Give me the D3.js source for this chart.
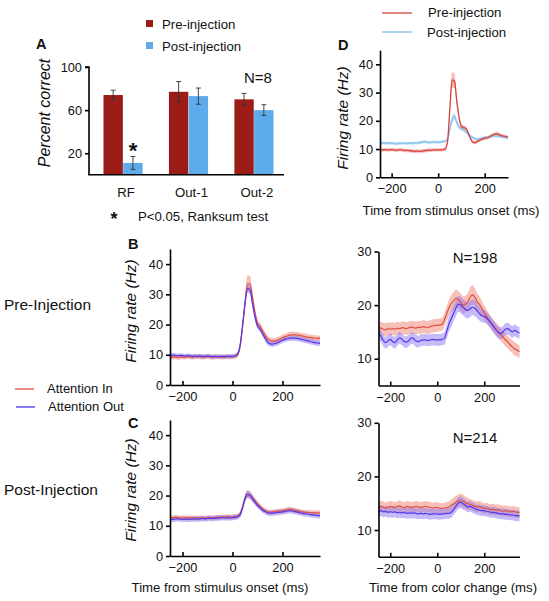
<!DOCTYPE html>
<html><head><meta charset="utf-8">
<script src="https://cdn.jsdelivr.net/npm/d3@7"></script>
<style>body{margin:0;background:#fff}svg{display:block}</style>
</head><body><svg id="c" width="549" height="601"></svg>
<script>
// ---------- Panel A data ----------
const catsA = ["RF", "Out-1", "Out-2"];
const preA = [74, 77, 70];
const postA = [11, 73, 60];
const preAErr = [4.5, 9.5, 5.5];
const postAErr = [6, 7.5, 5];
const ticksA = [20, 60, 100];

// ---------- Panel D data (-250..300, step 10) ----------
const timesD = d3.range(-250, 301, 10);
const dPre = [
 9.8,9.7,9.8,9.7,9.7, 9.8,9.7,9.6,9.7,9.7, 9.6,9.5,9.5,9.4,9.3, 9.2,9.3,9.2,9.3,9.4,
 9.5,9.6,9.6,9.7,9.7, 9.7,9.7,9.8,10.0,12.5, 24,34.5,34,27,21, 18,17.6,17.2,15.5,13.5,
 12.4,12.3,12.8,13.2,13.6, 13.8,14,14.3,14.8,15.2, 15.4,15.2,14.8,14.6,14.4, 14.2];
const dPreErr = [
 0.6,0.6,0.6,0.6,0.6, 0.6,0.6,0.6,0.6,0.6, 0.6,0.6,0.6,0.6,0.6, 0.6,0.6,0.6,0.6,0.6,
 0.6,0.6,0.6,0.6,0.6, 0.6,0.6,0.6,0.7,1.0, 1.8,2.8,2.5,1.6,1.0, 0.8,0.8,0.7,0.7,0.6,
 0.6,0.6,0.6,0.6,0.6, 0.6,0.6,0.6,0.6,0.6, 0.7,0.7,0.6,0.6,0.6, 0.6];
const dPost = [
 12.3,12.2,12.1,12.2,12.0, 12.1,12.0,11.9,12.0,12.0, 12.1,12.0,12.0,12.1,12.0, 12.2,12.1,12.3,12.4,12.6,
 12.5,12.3,12.4,12.5,12.4, 12.4,12.5,12.6,12.8,13.5, 17.0,20.5,21.5,19.5,17.8, 17.2,16.8,16.0,15.2,14.5,
 14.0,13.6,13.5,13.7,13.9, 14.1,14.2,14.3,14.5,14.6, 14.7,14.5,14.3,14.2,14.1, 14.0];
const dPostErr = [
 0.5,0.5,0.5,0.5,0.5, 0.5,0.5,0.5,0.5,0.5, 0.5,0.5,0.5,0.5,0.5, 0.5,0.5,0.5,0.5,0.5,
 0.5,0.5,0.5,0.5,0.5, 0.5,0.5,0.5,0.5,0.6, 0.8,1.2,1.2,0.9,0.7, 0.6,0.6,0.5,0.5,0.5,
 0.5,0.5,0.5,0.5,0.5, 0.5,0.5,0.5,0.5,0.5, 0.5,0.5,0.5,0.5,0.5, 0.5];

// ---------- Panels B, C, right (-250..350, step 10) ----------
const timesBC = d3.range(-250, 351, 10);
const bIn = [
 9.3,9.2,9.3,9.1,9.2, 9.3,9.2,9.4,9.3,9.2, 9.3,9.4,9.3,9.2,9.3, 9.4,9.3,9.2,9.3,9.4,
 9.3,9.2,9.3,9.4,9.3, 9.4,9.5,10.0,12.5,19, 27,33.5,33.5,29,24, 20.5,19.5,18,16.5,15.3,
 14.7,14.5,14.6,14.9,15.2, 15.6,16,16.3,16.5,16.6, 16.6,16.5,16.4,16.2,16, 15.8,15.7,15.6,15.5,15.4, 15.4];
const bInErr = [
 0.8,0.8,0.8,0.8,0.8, 0.8,0.8,0.8,0.8,0.8, 0.8,0.8,0.8,0.8,0.8, 0.8,0.8,0.8,0.8,0.8,
 0.8,0.8,0.8,0.8,0.8, 0.8,0.8,0.8,1.0,1.5, 2.2,2.8,2.6,2.0,1.5, 1.2,1.1,1.0,1.0,1.0,
 1.0,1.0,1.0,1.0,1.0, 1.0,1.0,1.0,1.0,1.0, 1.0,1.0,1.0,1.0,1.0, 1.0,1.0,1.0,1.0,1.0, 1.0];
const bOut = [
 9.8,9.9,9.8,9.7,9.8, 9.7,9.6,9.7,9.6,9.5, 9.6,9.5,9.6,9.5,9.5, 9.6,9.5,9.4,9.5,9.4,
 9.4,9.5,9.4,9.5,9.5, 9.5,9.6,10.2,13,19.5, 27,32,31.5,27,22.5, 19.5,18.5,17,15.5,14.2,
 13.6,13.5,13.7,14.0,14.4, 14.8,15.1,15.3,15.5,15.5, 15.5,15.4,15.2,15.0,14.8, 14.6,14.4,14.2,14.0,13.9, 13.8];
const bOutErr = [
 0.7,0.7,0.7,0.7,0.7, 0.7,0.7,0.7,0.7,0.7, 0.7,0.7,0.7,0.7,0.7, 0.7,0.7,0.7,0.7,0.7,
 0.7,0.7,0.7,0.7,0.7, 0.7,0.7,0.7,0.9,1.2, 1.4,1.6,1.5,1.3,1.1, 1.0,0.9,0.9,0.9,0.9,
 0.9,0.9,0.9,0.9,0.9, 0.9,0.9,0.9,0.9,0.9, 0.9,0.9,0.9,0.9,0.9, 0.9,0.9,0.9,0.9,0.9, 0.9];
const cIn = [
 12.8,12.7,12.8,12.7,12.6, 12.7,12.6,12.7,12.6,12.6, 12.5,12.6,12.5,12.6,12.5, 12.6,12.7,12.6,12.7,12.8,
 12.8,12.9,12.9,13.0,12.9, 12.9,13.0,13.2,13.8,16, 19,20.5,20.2,19.2,18.2, 17.2,16.4,15.6,15.0,14.6,
 14.5,14.6,14.7,14.8,14.9, 15.0,15.1,15.3,15.4,15.3, 15.1,14.9,14.7,14.6,14.5, 14.4,14.4,14.3,14.3,14.3, 14.2];
const cInErr = [
 0.8,0.8,0.8,0.8,0.8, 0.8,0.8,0.8,0.8,0.8, 0.8,0.8,0.8,0.8,0.8, 0.8,0.8,0.8,0.8,0.8,
 0.8,0.8,0.8,0.8,0.8, 0.8,0.8,0.8,0.9,1.1, 1.2,1.3,1.3,1.2,1.1, 1.0,0.9,0.9,0.8,0.8,
 0.8,0.8,0.8,0.8,0.8, 0.8,0.8,0.8,0.8,0.8, 0.8,0.8,0.8,0.8,0.8, 0.8,0.8,0.8,0.8,0.8, 0.8];
const cOut = [
 12.2,12.1,12.2,12.3,12.2, 12.1,12.2,12.1,12.2,12.2, 12.3,12.2,12.3,12.4,12.3, 12.4,12.5,12.4,12.5,12.6,
 12.6,12.7,12.6,12.7,12.6, 12.7,12.8,13.0,13.6,16, 19,20.4,20,19,17.8, 16.8,16,15.2,14.7,14.3,
 14.1,14.2,14.3,14.4,14.5, 14.6,14.7,14.9,15.0,14.9, 14.7,14.5,14.3,14.1,14.0, 13.9,13.7,13.6,13.5,13.4, 13.3];
const cOutErr = [
 0.9,0.9,0.9,0.9,0.9, 0.9,0.9,0.9,0.9,0.9, 0.9,0.9,0.9,0.9,0.9, 0.9,0.9,0.9,0.9,0.9,
 0.9,0.9,0.9,0.9,0.9, 0.9,0.9,0.9,1.0,1.1, 1.2,1.2,1.2,1.1,1.0, 1.0,0.9,0.9,0.9,0.9,
 0.9,0.9,0.9,0.9,0.9, 0.9,0.9,0.9,0.9,0.9, 0.9,0.9,0.9,0.9,0.9, 0.9,0.9,0.9,0.9,0.9, 0.9];
const ePreIn = [
 15.8,15.7,15.5,15.4,15.6, 15.5,15.6,15.5,15.7,15.6, 15.8,15.7,15.6,15.8,15.9, 15.8,15.7,15.9,15.8,16.0,
 15.9,15.8,16.0,16.1,16.2, 16.2,16.3,16.4,17.2,18.4, 19.5,20.3,20.8,21.3,21.0, 20.5,20.0,20.2,20.6,21.5,
 21.9,21.5,20.6,20.1,19.4, 18.6,17.9,17.2,16.6,16.0, 15.5,15.0,14.5,14.0,13.5, 13.1,12.6,12.2,11.8,11.6, 11.3];
const ePreInErr = [
 1.2,1.2,1.2,1.2,1.2, 1.2,1.2,1.2,1.2,1.2, 1.2,1.2,1.2,1.2,1.2, 1.2,1.2,1.2,1.2,1.2,
 1.2,1.2,1.2,1.2,1.2, 1.2,1.2,1.2,1.3,1.4, 1.5,1.6,1.6,1.6,1.6, 1.6,1.6,1.6,1.7,1.8,
 1.8,1.7,1.6,1.5,1.4, 1.3,1.3,1.2,1.2,1.2, 1.2,1.2,1.2,1.2,1.2, 1.2,1.2,1.2,1.2,1.2, 1.2];
const ePreOut = [
 14.8,14.2,13.4,13.0,13.3, 13.6,13.2,13.0,13.5,13.9, 13.6,13.2,13.1,13.4,13.9, 13.7,13.3,13.2,13.4,13.5,
 13.5,13.4,13.5,13.6,13.5, 13.5,13.5,13.6,13.8,15.0, 16.5,17.5,18.5,19.5,20.2, 20.0,19.6,19.2,19.0,19.3,
 19.6,19.4,18.9,18.4,18.0, 17.9,17.6,17.1,16.6,16.0, 15.4,14.9,14.7,15.0,15.5, 15.6,15.3,15.0,15.3,15.0, 14.8];
const ePreOutErr = [
 1.1,1.1,1.1,1.1,1.1, 1.1,1.1,1.1,1.1,1.1, 1.1,1.1,1.1,1.1,1.1, 1.1,1.1,1.1,1.1,1.1,
 1.1,1.1,1.1,1.1,1.1, 1.1,1.1,1.1,1.2,1.3, 1.4,1.5,1.5,1.5,1.5, 1.5,1.5,1.5,1.5,1.5,
 1.5,1.5,1.4,1.3,1.2, 1.2,1.1,1.1,1.1,1.1, 1.1,1.1,1.1,1.1,1.1, 1.1,1.1,1.1,1.1,1.1, 1.1];
const ePostIn = [
 14.2,14.4,14.3,14.1,14.3, 14.4,14.3,14.2,14.4,14.5, 14.3,14.2,14.4,14.3,14.2, 14.3,14.4,14.3,14.2,14.3,
 14.4,14.3,14.2,14.1,14.2, 14.2,14.1,14.0,14.1,14.2, 14.3,14.6,14.9,15.2,15.4, 15.6,15.4,15.1,14.9,14.8,
 14.6,14.4,14.3,14.4,14.2, 14.0,14.1,13.9,13.8,13.9, 13.7,13.8,13.6,13.5,13.6, 13.5,13.4,13.5,13.4,13.3, 13.3];
const ePostInErr = [
 1.0,1.0,1.0,1.0,1.0, 1.0,1.0,1.0,1.0,1.0, 1.0,1.0,1.0,1.0,1.0, 1.0,1.0,1.0,1.0,1.0,
 1.0,1.0,1.0,1.0,1.0, 1.0,1.0,1.0,1.0,1.0, 1.0,1.1,1.1,1.2,1.2, 1.2,1.2,1.1,1.1,1.0,
 1.0,1.0,1.0,1.0,1.0, 1.0,1.0,1.0,1.0,1.0, 1.0,1.0,1.0,1.0,1.0, 1.0,1.0,1.0,1.0,1.0, 1.0];
const ePostOut = [
 13.5,13.6,13.4,13.5,13.3, 13.4,13.3,13.4,13.2,13.3, 13.2,13.3,13.1,13.2,13.1, 13.2,13.1,13.0,13.1,13.0,
 13.1,13.0,12.9,13.0,13.0, 13.0,12.9,13.0,13.0,13.1, 13.1,13.3,13.8,14.5,15.0, 15.2,14.9,14.6,14.3,14.4,
 14.2,14.0,13.8,13.7,13.6, 13.6,13.5,13.4,13.3,13.3, 13.2,13.1,13.0,13.0,12.9, 12.9,12.8,12.8,12.7,12.7, 12.6];
const ePostOutErr = [
 1.0,1.0,1.0,1.0,1.0, 1.0,1.0,1.0,1.0,1.0, 1.0,1.0,1.0,1.0,1.0, 1.0,1.0,1.0,1.0,1.0,
 1.0,1.0,1.0,1.0,1.0, 1.0,1.0,1.0,1.0,1.0, 1.0,1.0,1.0,1.1,1.1, 1.1,1.1,1.0,1.0,1.0,
 1.0,1.0,1.0,1.0,1.0, 1.0,1.0,1.0,1.0,1.0, 1.0,1.0,1.0,1.0,1.0, 1.0,1.0,1.0,1.0,1.0, 1.0];

const ticksRate = [0, 10, 20, 30, 40];
const ticksRateR = [10, 20, 30];
const ticksTime = [-200, 0, 200];

// ---------- drawing ----------
const FONT = "'Liberation Sans', Arial, Helvetica, sans-serif";
const svg = d3.select("#c").style("font-family", FONT);

function txt(x, y, s, o = {}) {
  const t = svg.append("text").attr("x", x).attr("y", y).text(s)
    .attr("font-size", o.size || 13.2).attr("fill", "#111")
    .attr("text-anchor", o.anchor || "start");
  if (o.bold) t.attr("font-weight", "bold");
  if (o.italic) t.attr("font-style", "italic");
  if (o.rot) t.attr("transform", `rotate(-90,${x},${y})`);
  return t;
}
function styleAxis(g) {
  g.selectAll("path,line").attr("stroke", "#000").attr("stroke-width", 1.6);
  g.selectAll("text").attr("font-size", 12.8).attr("fill", "#111").attr("font-family", FONT);
}

// ----- Panel A -----
const yA = d3.scaleLinear().domain([0, 100]).range([174.8, 67]);
const xA = d3.scaleBand().domain(catsA).range([90, 287]).paddingInner(0.39).paddingOuter(0.2);
const xSub = d3.scaleBand().domain(["pre", "post"]).range([0, xA.bandwidth()]).padding(0.02);
const colPre = "#9c1d17", colPost = "#5eabec";
const gA = svg.append("g");
catsA.forEach((c, i) => {
  [["pre", preA[i], preAErr[i], colPre], ["post", postA[i], postAErr[i], colPost]].forEach(([k, v, e, col]) => {
    const x0 = xA(c) + xSub(k), w = xSub.bandwidth(), cx = x0 + w / 2;
    gA.append("rect").attr("x", x0).attr("y", yA(v)).attr("width", w).attr("height", yA(0) - yA(v)).attr("fill", col);
    gA.append("line").attr("x1", cx).attr("x2", cx).attr("y1", yA(v + e)).attr("y2", yA(v - e)).attr("stroke", "#333").attr("stroke-width", 0.9);
    [v + e, v - e].forEach(yy => gA.append("line").attr("x1", cx - 2.5).attr("x2", cx + 2.5).attr("y1", yA(yy)).attr("y2", yA(yy)).attr("stroke", "#333").attr("stroke-width", 0.9));
  });
});
const axA = svg.append("g").attr("transform", "translate(89,0)")
  .call(d3.axisLeft(yA).tickValues(ticksA).tickSize(4).tickSizeOuter(0).tickPadding(3));
axA.select(".domain").attr("d", `M-4,${yA(100)}H0V${yA(0)}`);
styleAxis(axA);
svg.append("line").attr("x1", 88.2).attr("x2", 284).attr("y1", yA(0)).attr("y2", yA(0)).attr("stroke", "#000").attr("stroke-width", 1.6);
catsA.forEach(c => txt(xA(c) + xA.bandwidth() / 2 + 3, 197, c, { anchor: "middle" }));
txt(133, 158, "*", { size: 22, bold: true, anchor: "middle" });
txt(258, 83, "N=8", { size: 15, anchor: "middle" });
txt(36, 49, "A", { size: 14.5, bold: true });
txt(50, 113, "Percent correct", { size: 16, italic: true, rot: true, anchor: "middle" });
svg.append("rect").attr("x", 146).attr("y", 20).attr("width", 7).attr("height", 7).attr("fill", colPre);
svg.append("rect").attr("x", 146).attr("y", 42).attr("width", 7).attr("height", 7).attr("fill", colPost);
txt(162, 29, "Pre-injection");
txt(162, 51, "Post-injection");
txt(114, 225, "*", { size: 18, bold: true, anchor: "middle" });
txt(138, 221, "P<0.05, Ranksum test");

// ----- time-course panel helper -----
function panel(cfg) {
  const x = d3.scaleLinear().domain(cfg.xd).range(cfg.xr);
  const y = d3.scaleLinear().domain(cfg.yd).range(cfg.yr);
  const g = svg.append("g");
  cfg.series.forEach(s => {
    const pts = cfg.times.map((t, i) => ({ t, v: s.v[i], e: s.e[i] }));
    g.append("path").datum(pts)
      .attr("d", d3.area().x(d => x(d.t)).y0(d => y(d.v - d.e)).y1(d => y(d.v + d.e)).curve(d3.curveMonotoneX))
      .attr("fill", s.band).attr("fill-opacity", s.bandOp);
  });
  cfg.series.forEach(s => {
    const pts = cfg.times.map((t, i) => ({ t, v: s.v[i] }));
    g.append("path").datum(pts)
      .attr("d", d3.line().x(d => x(d.t)).y(d => y(d.v)).curve(d3.curveMonotoneX))
      .attr("fill", "none").attr("stroke", s.line).attr("stroke-width", s.lw || 1.2);
  });
  const ay = svg.append("g").attr("transform", `translate(${cfg.xr[0]},0)`)
    .call(d3.axisLeft(y).tickValues(cfg.yt).tickSize(4).tickSizeOuter(0).tickPadding(3));
  styleAxis(ay);
  const ax = svg.append("g").attr("transform", `translate(0,${cfg.yr[0]})`)
    .call(d3.axisBottom(x).tickValues(ticksTime).tickSize(-4).tickSizeOuter(0).tickPadding(7));
  styleAxis(ax);
  return { x, y };
}

const red = "#e0503f", redBand = "#ef8a7e", blue = "#5236ec", blueBand = "#8c78f2";

// Panel D
panel({ times: timesD, xd: [-250, 300], xr: [380, 508], yd: [0, 45], yr: [177.3, 50.2], yt: ticksRate,
  series: [
    { v: dPost, e: dPostErr, line: "#8ec5ee", band: "#b7dbf6", bandOp: 0.8, lw: 1.5 },
    { v: dPre, e: dPreErr, line: "#d5443d", band: "#ec8e88", bandOp: 0.6, lw: 1.3 }
  ] });
txt(338, 50, "D", { size: 14.5, bold: true });
txt(348, 118, "Firing rate (Hz)", { size: 15.5, italic: true, rot: true, anchor: "middle" });
txt(451, 215, "Time from stimulus onset (ms)", { anchor: "middle" });
svg.append("line").attr("x1", 382).attr("x2", 412).attr("y1", 13).attr("y2", 13).attr("stroke", "#d5443d").attr("stroke-width", 1.3);
svg.append("line").attr("x1", 382).attr("x2", 412).attr("y1", 32).attr("y2", 32).attr("stroke", "#8ec5ee").attr("stroke-width", 1.5);
txt(428, 17, "Pre-injection");
txt(427, 37, "Post-injection");

// Panel B
panel({ times: timesBC, xd: [-250, 350], xr: [170, 320], yd: [0, 45], yr: [385, 249], yt: ticksRate,
  series: [
    { v: bIn, e: bInErr, line: red, band: redBand, bandOp: 0.55 },
    { v: bOut, e: bOutErr, line: blue, band: blueBand, bandOp: 0.5 }
  ] });
txt(128, 249, "B", { size: 14.5, bold: true });
txt(136, 311, "Firing rate (Hz)", { size: 15.5, italic: true, rot: true, anchor: "middle" });

// Panel C
panel({ times: timesBC, xd: [-250, 350], xr: [170, 320], yd: [0, 45], yr: [556, 420], yt: ticksRate,
  series: [
    { v: cIn, e: cInErr, line: red, band: redBand, bandOp: 0.55 },
    { v: cOut, e: cOutErr, line: blue, band: blueBand, bandOp: 0.5 }
  ] });
txt(128, 428, "C", { size: 14.5, bold: true });
txt(136, 490, "Firing rate (Hz)", { size: 15.5, italic: true, rot: true, anchor: "middle" });
txt(220, 592, "Time from stimulus onset (ms)", { anchor: "middle" });

// Right top
panel({ times: timesBC, xd: [-250, 350], xr: [378.5, 519.5], yd: [5, 30], yr: [385.5, 251.5], yt: ticksRateR,
  series: [
    { v: ePreIn, e: ePreInErr, line: red, band: redBand, bandOp: 0.55 },
    { v: ePreOut, e: ePreOutErr, line: blue, band: blueBand, bandOp: 0.5 }
  ] });
txt(475, 263, "N=198", { size: 15, anchor: "middle" });

// Right bottom
panel({ times: timesBC, xd: [-250, 350], xr: [378.5, 519.5], yd: [5, 30], yr: [556.8, 422.8], yt: ticksRateR,
  series: [
    { v: ePostIn, e: ePostInErr, line: red, band: redBand, bandOp: 0.55 },
    { v: ePostOut, e: ePostOutErr, line: blue, band: blueBand, bandOp: 0.5 }
  ] });
txt(475, 443, "N=214", { size: 15, anchor: "middle" });
txt(453, 592, "Time from color change (ms)", { anchor: "middle" });

// Left labels + legend
txt(4, 310, "Pre-Injection", { size: 15.5 });
txt(4, 495, "Post-Injection", { size: 15.5 });
svg.append("line").attr("x1", 15).attr("x2", 34).attr("y1", 389).attr("y2", 389).attr("stroke", red).attr("stroke-width", 1.3);
svg.append("line").attr("x1", 16).attr("x2", 35).attr("y1", 407).attr("y2", 407).attr("stroke", "#6a5cf5").attr("stroke-width", 1.6);
txt(47, 393, "Attention In", { size: 13 });
txt(48, 411, "Attention Out", { size: 13 });
</script></body></html>
